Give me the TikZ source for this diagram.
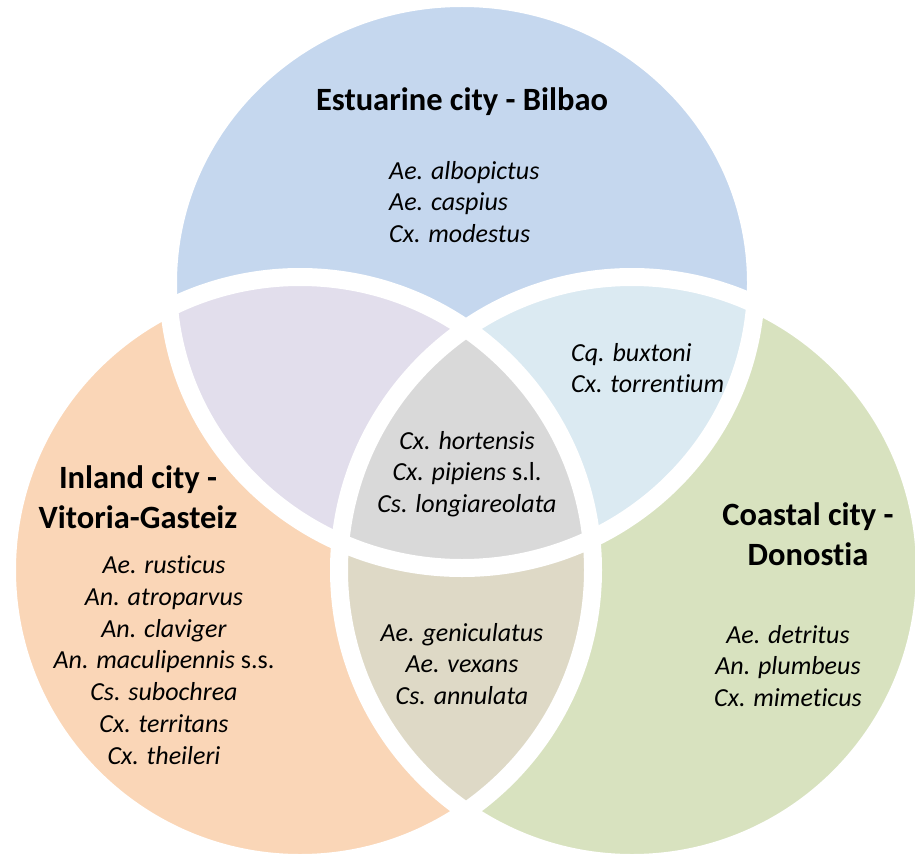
\documentclass[tikz,border=0pt]{standalone}
\usepackage{fontspec}
\setmainfont{Carlito}[Ligatures=NoCommon]
\definecolor{bilbaoblue}{RGB}{197,215,238}
\definecolor{vitoriaorange}{RGB}{250,214,183}
\definecolor{donostiagreen}{RGB}{216,226,191}
\definecolor{lilac}{RGB}{226,222,236}
\definecolor{paleblue}{RGB}{219,234,242}
\definecolor{coregray}{RGB}{217,217,217}
\definecolor{sand}{RGB}{222,217,198}
\begin{document}
\begin{tikzpicture}
[x=1pt,y=-1pt,
  ringdecorate/.style={draw=white,line width=18pt},%
  citydecorate/.style={font=\fontsize{32.5}{40}\selectfont\bfseries,align=center,inner sep=0pt},%
  speciesdecorate/.style={font=\fontsize{26}{31.8}\selectfont\itshape,inner sep=0pt}]
\useasboundingbox (0,0) rectangle (915,856);
\def\bilbaoshape{(462,283) ellipse [x radius=294pt,y radius=285pt]}
\def\vitoriashape{(300,570) circle [radius=293pt]}
\def\donostiashape{(632,570) circle [radius=293pt]}
%% the three cities
\fill[bilbaoblue] \bilbaoshape;
\fill[vitoriaorange] \vitoriashape;
\fill[donostiagreen] \donostiashape;
%% overlaps
\begin{scope}
  \clip \bilbaoshape;
  \fill[paleblue] \donostiashape;
\end{scope}
\begin{scope}
  \clip \vitoriashape;
  \fill[lilac] \bilbaoshape;
  \fill[sand] \donostiashape;
  \clip \bilbaoshape;
  \fill[coregray] \donostiashape;
\end{scope}
%% white rings
\foreach \ringshape in {\bilbaoshape,\vitoriashape,\donostiashape}
  \draw[ringdecorate] \ringshape;
%% city names
\node (bilbao) at (462,102) [citydecorate] {Estuarine city - Bilbao};
\node (vitoria) at (138,497) [citydecorate] {Inland city -\\Vitoria-Gasteiz};
\node (donostia) at (808,534) [citydecorate] {Coastal city -\\Donostia};
%% species
\node (bilbaolist) at (389,202) [speciesdecorate,anchor=west,align=left]
  {Ae. albopictus\\Ae. caspius\\Cx. modestus};
\node (bilbaodonostia) at (571,368) [speciesdecorate,anchor=west,align=left]
  {Cq. buxtoni\\Cx. torrentium};
\node (core) at (467,474) [speciesdecorate,align=center]
  {Cx. hortensis\\Cx. pipiens \textup{s.l.}\\Cs. longiareolata};
\node (vitorialist) at (164,660) [speciesdecorate,align=center]
  {Ae. rusticus\\An. atroparvus\\An. claviger\\An. maculipennis \textup{s.s.}\\Cs. subochrea\\Cx. territans\\Cx. theileri};
\node (vitoriadonostia) at (462,664) [speciesdecorate,align=center]
  {Ae. geniculatus\\Ae. vexans\\Cs. annulata};
\node (donostialist) at (788,666) [speciesdecorate,align=center]
  {Ae. detritus\\An. plumbeus\\Cx. mimeticus};
\end{tikzpicture}
\end{document}
